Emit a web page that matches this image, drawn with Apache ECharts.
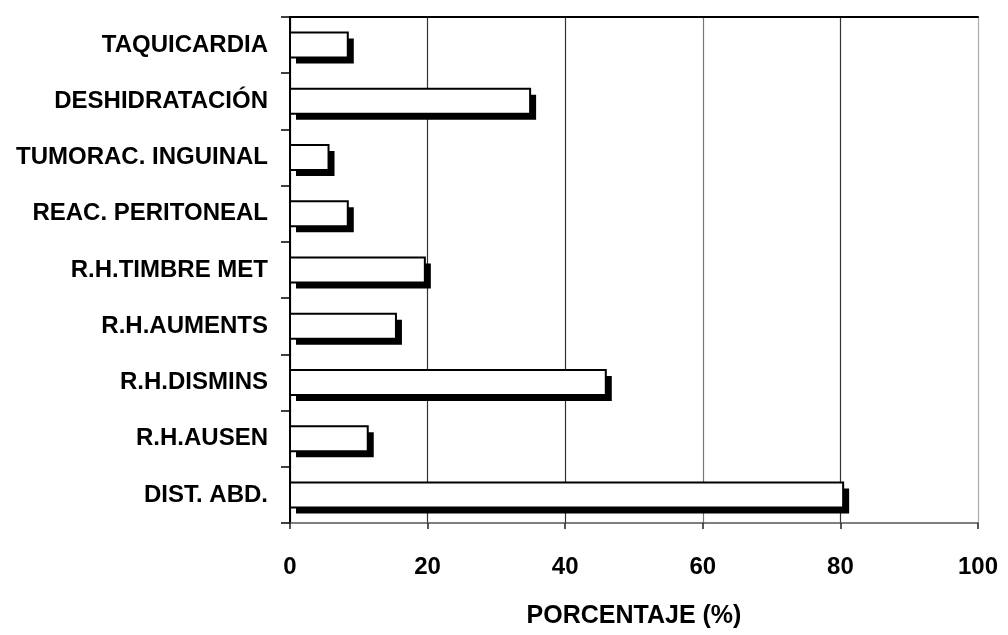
<!DOCTYPE html>
<html>
<head>
<meta charset="utf-8">
<script src="https://cdn.jsdelivr.net/npm/echarts@6/dist/echarts.min.js"></script>
<style>
  html, body { margin: 0; padding: 0; background: #fff; }
  #chart { width: 1008px; height: 635px; }
</style>
</head>
<body>
<div id="chart"></div>
<script>
// Clinical signs, percentage of patients
const categories = [
  'TAQUICARDIA',
  'DESHIDRATACIÓN',
  'TUMORAC. INGUINAL',
  'REAC. PERITONEAL',
  'R.H.TIMBRE MET',
  'R.H.AUMENTS',
  'R.H.DISMINS',
  'R.H.AUSEN',
  'DIST. ABD.'
];
const percentages = [8.4, 34.9, 5.6, 8.4, 19.6, 15.4, 45.9, 11.3, 80.4];
const xTicks = [0, 20, 40, 60, 80, 100];
const xTitle = 'PORCENTAJE (%)';

const font = 'Liberation Sans, Arial, Helvetica, sans-serif';
const BAR_H = 25;      // bar thickness in px
const DROP = 6;        // offset of the solid drop shadow

const chart = echarts.init(document.getElementById('chart'));

// Each bar: a black block offset down/right, then a white outlined bar on top.
function renderBar(params, api) {
  const catIdx = api.value(0);
  const val = api.value(1);
  const start = api.coord([0, catIdx]);
  const end = api.coord([val, catIdx]);
  const x0 = start[0];
  const w = end[0] - start[0];
  const y = start[1] - BAR_H / 2;
  return {
    type: 'group',
    children: [{
      type: 'rect',
      shape: { x: x0 + DROP, y: y + DROP, width: w, height: BAR_H },
      style: { fill: '#000' }
    }, {
      type: 'rect',
      shape: { x: x0, y: y, width: w, height: BAR_H },
      style: { fill: '#fff', stroke: '#000', lineWidth: 2 }
    }]
  };
}

chart.setOption({
  backgroundColor: '#fff',
  animation: false,
  grid: { left: 290, right: 30, top: 17, bottom: 112, containLabel: false },
  xAxis: [{
    type: 'value',
    position: 'bottom',
    min: xTicks[0],
    max: xTicks[xTicks.length - 1],
    interval: xTicks[1] - xTicks[0],
    name: xTitle,
    nameLocation: 'middle',
    nameGap: 81,
    nameTextStyle: { color: '#000', fontFamily: font, fontWeight: 'bold', fontSize: 25 },
    axisLine: { show: true, onZero: false, lineStyle: { color: '#555', width: 1.5 } },
    axisTick: { show: true, length: 6, lineStyle: { color: '#222', width: 1.5 } },
    axisLabel: { margin: 32, color: '#000', fontFamily: font, fontWeight: 'bold', fontSize: 24 },
    splitLine: {
      show: true,
      lineStyle: { color: ['#333', '#333', '#333', '#777', '#333', '#aaa'], width: 1.2 }
    }
  }, {
    type: 'value',
    position: 'top',
    min: xTicks[0],
    max: xTicks[xTicks.length - 1],
    axisLine: { show: true, lineStyle: { color: '#000', width: 2 } },
    axisTick: { show: false },
    axisLabel: { show: false },
    splitLine: { show: false }
  }],
  yAxis: {
    type: 'category',
    inverse: true,
    data: categories,
    axisLine: { show: true, lineStyle: { color: '#000', width: 2 } },
    axisTick: { show: true, length: 9, lineStyle: { color: '#000', width: 1.5 } },
    axisLabel: { margin: 22, color: '#000', fontFamily: font, fontWeight: 'bold', fontSize: 24 }
  },
  series: [{
    type: 'custom',
    xAxisIndex: 0,
    renderItem: renderBar,
    encode: { x: 1, y: 0 },
    data: percentages.map((v, i) => [i, v]),
    silent: true
  }]
});
</script>
</body>
</html>
